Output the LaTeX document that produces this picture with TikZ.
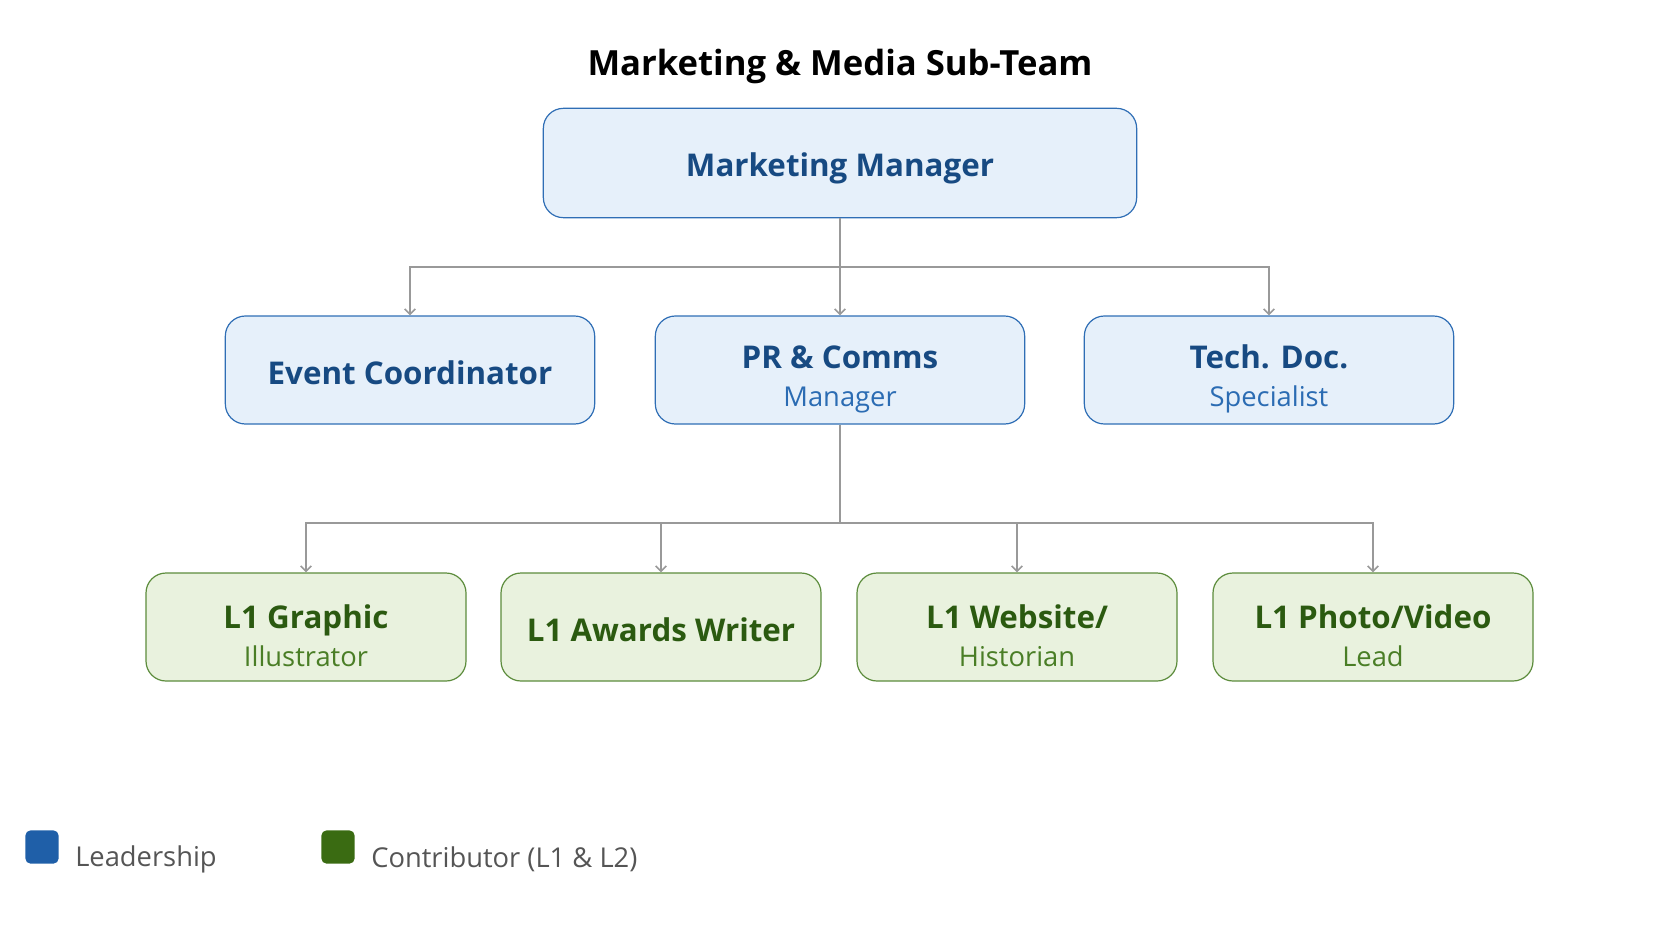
\documentclass[tikz,border=0pt]{standalone}
\usepackage{fontspec}
\setmainfont{Open Sans}
\usetikzlibrary{arrows.meta}

\definecolor{leadfill}{HTML}{E6F0FA}
\definecolor{leadline}{HTML}{2F6EB5}
\definecolor{leadtext}{HTML}{174A82}
\definecolor{leadsub}{HTML}{2B6CB3}
\definecolor{contfill}{HTML}{E9F2DE}
\definecolor{contline}{HTML}{5C8C3C}
\definecolor{conttext}{HTML}{2B5A10}
\definecolor{contsub}{HTML}{4A7E26}
\definecolor{keylead}{HTML}{1F5FA8}
\definecolor{keycont}{HTML}{3A6B12}
\definecolor{linkgray}{HTML}{999999}
\definecolor{legendgray}{HTML}{555555}

\newcommand{\sublead}[1]{{\fontsize{20.5}{24}\selectfont\mdseries\color{leadsub}#1}}
\newcommand{\subcont}[1]{{\fontsize{20.5}{24}\selectfont\mdseries\color{contsub}#1}}
\newcommand{\padtwo}{\rule{0pt}{31pt}}
\newcommand{\padone}{\rule{0pt}{22pt}}

\begin{document}
\begin{tikzpicture}[x=0.75pt, y=-0.75pt,
    lead/.style={rectangle, rounded corners=15pt, draw=leadline, fill=leadfill, line width=0.9pt,
      minimum width=277pt, minimum height=81pt, align=center, text=leadtext,
      font=\fontsize{23.5}{29}\selectfont\bfseries},
    cont/.style={rectangle, rounded corners=15pt, draw=contline, fill=contfill, line width=0.9pt,
      minimum width=240pt, minimum height=81pt, align=center, text=conttext,
      font=\fontsize{23.5}{29}\selectfont\bfseries},
    link/.style={draw=linkgray, line width=1.2pt, -{Straight Barb[length=4pt, width=8pt]}},
    keybox/.style={rectangle, rounded corners=4pt, minimum size=25pt, inner sep=0pt},
    keytext/.style={anchor=west, inner xsep=0pt, text=legendgray, font=\fontsize{20.5}{24}\selectfont}]
        \useasboundingbox (0,0) rectangle (1680,939);

        \draw (840,66) node[font=\fontsize{26}{30}\selectfont\bfseries] (title) {Marketing \& Media Sub-Team};

        \draw (840,163) node[lead, minimum width=445pt, minimum height=82pt] (mm) {\rule{0pt}{26pt}Marketing Manager};

        \draw (410,370) node[lead] (ev) {\padone Event Coordinator};
        \draw (840,370) node[lead] (pr) {\padtwo PR \& Comms\\\sublead{Manager}};
        \draw (1269,370) node[lead] (td) {\padtwo Tech. Doc.\\\sublead{Specialist}};

        \draw (306,627) node[cont] (gr) {\padtwo L1 Graphic\\\subcont{Illustrator}};
        \draw (661,627) node[cont] (aw) {\padone L1 Awards Writer};
        \draw (1017,627) node[cont] (wb) {\padtwo L1 Website/\\\subcont{Historian}};
        \draw (1373,627) node[cont] (ph) {\padtwo L1 Photo/Video\\\subcont{Lead}};

        \coordinate (bus1) at (840,267);
        \coordinate (bus2) at (840,523);

        \draw[link] (mm) -- (pr);
        \draw[link] (bus1) -| (ev);
        \draw[link] (bus1) -| (td);
        \draw[draw=linkgray, line width=1.2pt] (pr) -- (bus2);
        \draw[link] (bus2) -| (gr);
        \draw[link] (bus2) -| (aw);
        \draw[link] (bus2) -| (wb);
        \draw[link] (bus2) -| (ph);

        % legend
        \draw (42,847) node[keybox, fill=keylead] (klead) {};
        \draw (75,859) node[keytext] (tlead) {Leadership};
        \draw (338,847) node[keybox, fill=keycont] (kcont) {};
        \draw (371,859) node[keytext] (tcont) {Contributor (L1 \& L2)};
\end{tikzpicture}
\end{document}
